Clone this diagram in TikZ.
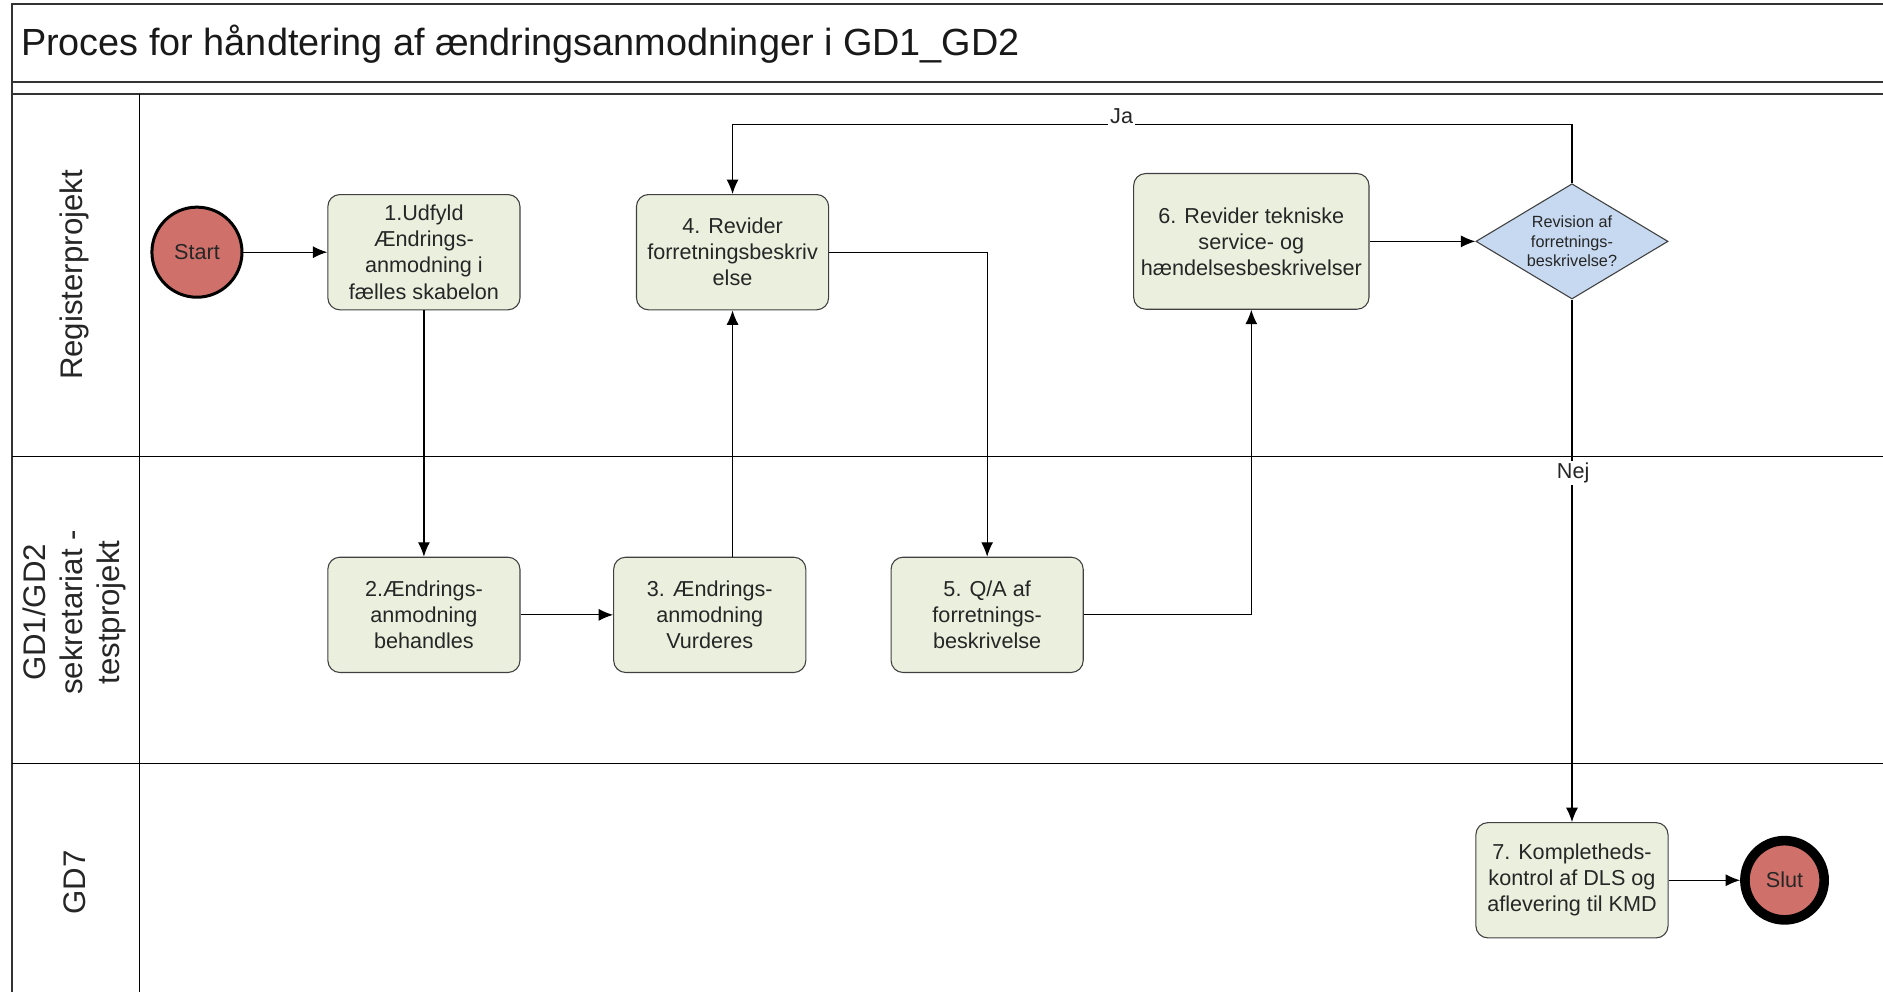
\documentclass[tikz,border=0pt]{standalone}
\usepackage{fontspec}
\setmainfont{Liberation Sans}
\usetikzlibrary{arrows.meta,shapes.geometric}

\definecolor{taskfill}{RGB}{235,240,222}
\definecolor{eventfill}{RGB}{207,113,106}
\definecolor{gatefill}{RGB}{198,217,240}

\tikzset{task/.style = {rectangle, rounded corners=10pt, draw=black!75, line width=0.9pt, fill=taskfill,
                        minimum width=160pt, minimum height=96pt, inner sep=2pt, align=center,
                        text=black!85, font=\fontsize{18}{21.7}\selectfont},
         event/.style = {circle, draw=black, fill=eventfill, text=black!85, inner sep=0pt,
                         font=\fontsize{18}{21.7}\selectfont},
         gate/.style = {diamond, draw=black!75, line width=0.9pt, fill=gatefill, aspect=1.667,
                        minimum width=160pt, minimum height=96pt, inner sep=0pt, align=center,
                        text=black!85, font=\fontsize{13.5}{16.5}\selectfont},
         flow/.style = {-{Latex[length=12pt,width=10pt]}, line width=1pt},
         answer/.style = {fill=white, inner sep=1.5pt, text=black!85, font=\fontsize{18}{21.7}\selectfont},
         lanename/.style = {rotate=90, align=center, text=black!85, font=\fontsize{26}{31}\selectfont},
         frame/.style = {line width=1.8pt, draw=black!80},
         lane/.style = {line width=1.1pt}
        }

\begin{document}
\begin{tikzpicture}[x=1pt, y=-1pt]
\useasboundingbox (0,0) rectangle (1568,826);
\draw[frame] (10,826) -- (10,3) -- (1568,3);
\draw[frame] (10,68) -- (1568,68);
\draw[frame] (10,78) -- (1568,78);
\draw[lane] (116,78) -- (116,826);
\draw[lane] (10,380) -- (1568,380);
\draw[lane] (10,636) -- (1568,636);
\node[anchor=base west, text=black!90, font=\fontsize{31.5}{36}\selectfont] (title) at (14,46)
   {Proces for håndtering af ændringsanmodninger i GD1\_GD2};
\node[lanename] (lane1) at (62,229) {Registerprojekt};
\node[lanename] (lane2) at (62,510) {GD1/GD2\\sekretariat -\\testprojekt};
\node[lanename] (lane3) at (62,735) {GD7};

\node[event, minimum size=75pt, line width=2.5pt] (start) at (164,210) {Start};
\node[event, minimum size=66pt, line width=8pt] (slut) at (1486,733) {Slut};
\foreach \n/\x/\y/\t in {b1/353/210/{1.Udfyld\\Ændrings-\\anmodning i\\fælles skabelon},
                         b4/610/210/{4. Revider\\forretningsbeskriv\\else},
                         b2/353/512/{2.Ændrings-\\anmodning\\behandles},
                         b3/591/512/{3. Ændrings-\\anmodning\\Vurderes},
                         b5/822/512/{5. Q/A af\\forretnings-\\beskrivelse},
                         b7/1309/733/{7. Kompletheds-\\kontrol af DLS og\\aflevering til KMD}}
   \node[task] (\n) at (\x,\y) {\t};
\node[task, minimum width=196pt, minimum height=113pt] (b6) at (1042,201)
   {6. Revider tekniske\\service- og\\hændelsesbeskrivelser};
\node[gate] (gate) at (1309,201) {Revision af\\forretnings-\\beskrivelse?};

\foreach \a/\b in {start/b1, b1/b2, b2/b3, b6/gate, gate/b7, b7/slut}
   \draw[flow] (\a) -- (\b);
\draw[flow] (b3.north -| b4) -- (b4);
\draw[flow] (b4) -| (b5);
\draw[flow] (b5) -| (b6);
\coordinate (jaturn) at (1309,104);
\draw[flow] (gate.north) -- (jaturn) -| (b4.north);
\node[answer] (ja) at (934,97) {Ja};
\node[answer] (nej) at (1310,394) {Nej};
\end{tikzpicture}
\end{document}
